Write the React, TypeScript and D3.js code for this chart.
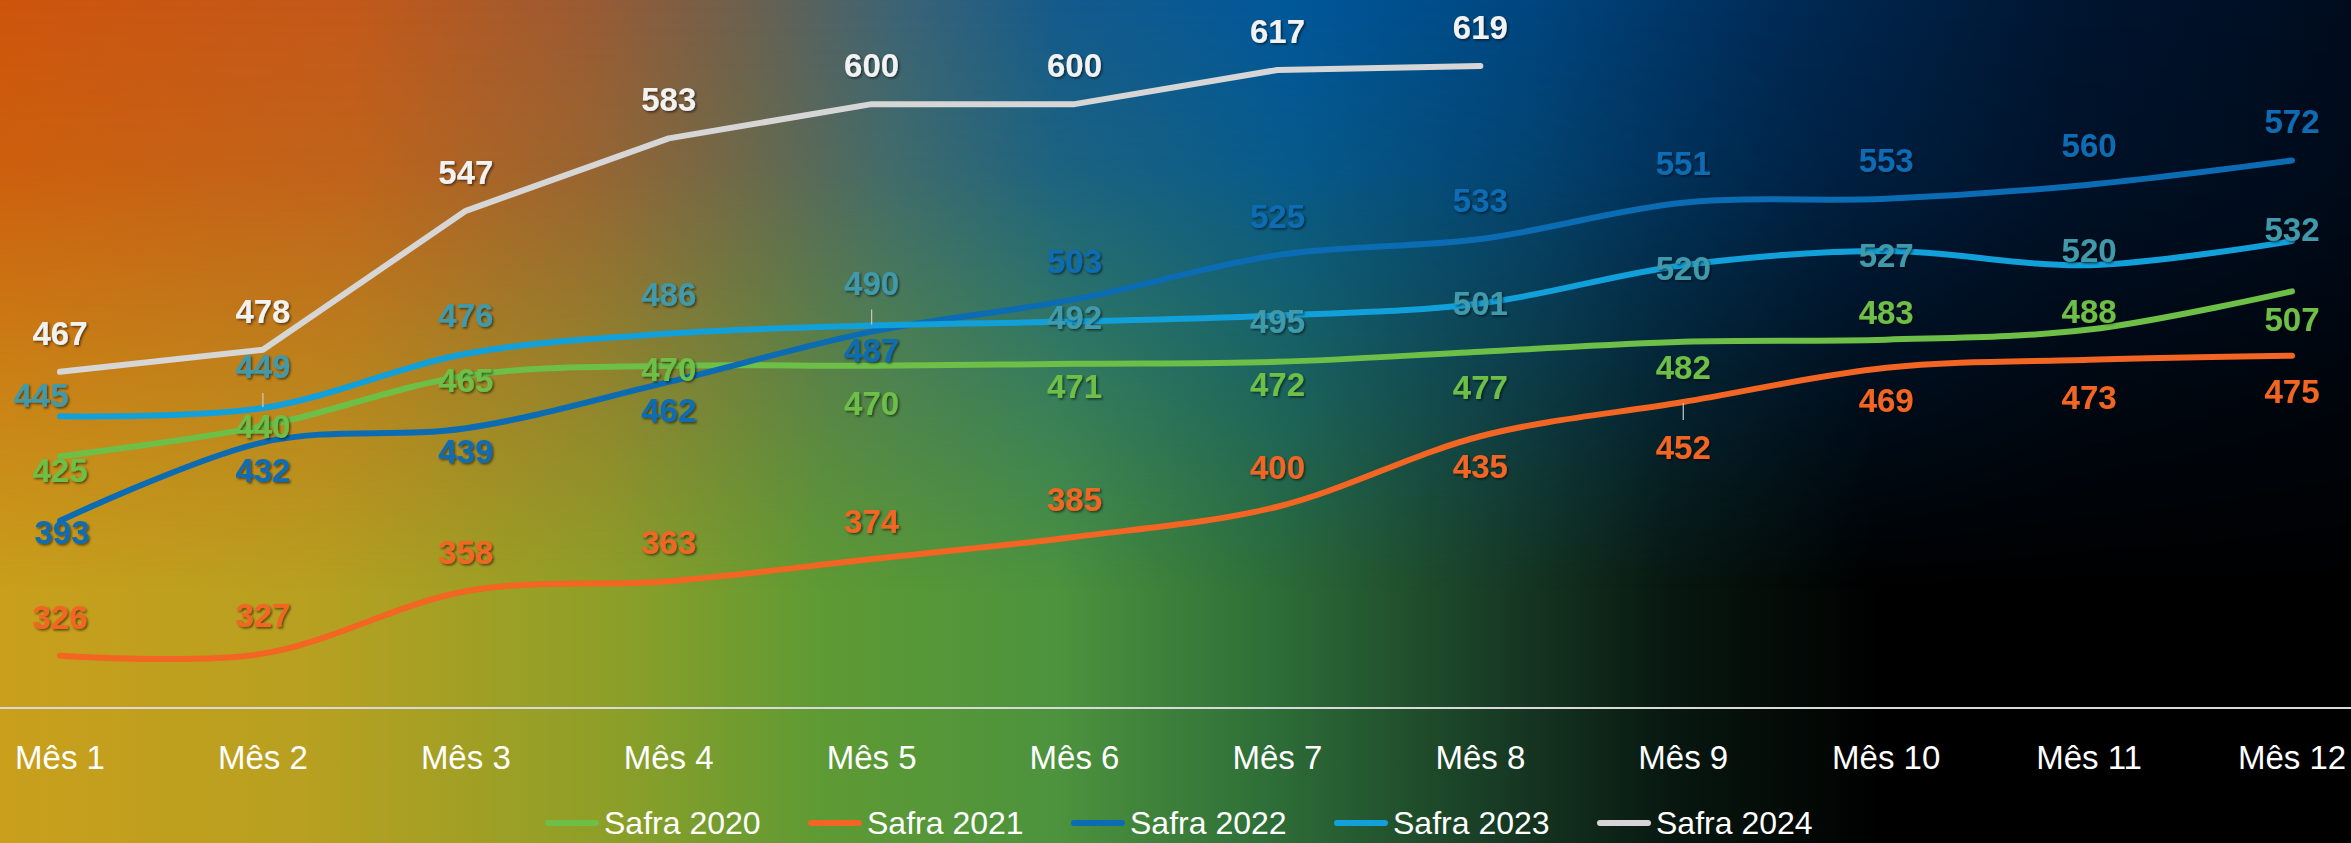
import React from 'react';
import * as d3 from 'd3';

// ---------- data ----------
const months = ['Mês 1', 'Mês 2', 'Mês 3', 'Mês 4', 'Mês 5', 'Mês 6', 'Mês 7', 'Mês 8', 'Mês 9', 'Mês 10', 'Mês 11', 'Mês 12'];
const seriesNames = ['Safra 2020', 'Safra 2021', 'Safra 2022', 'Safra 2023', 'Safra 2024'];
const safra2020 = [425, 440, 465, 470, 470, 471, 472, 477, 482, 483, 488, 507];
const safra2021 = [326, 327, 358, 363, 374, 385, 400, 435, 452, 469, 473, 475];
const safra2022 = [393, 432, 439, 462, 487, 503, 525, 533, 551, 553, 560, 572];
const safra2023 = [445, 449, 476, 486, 490, 492, 495, 501, 520, 527, 520, 532];
const safra2024 = [467, 478, 547, 583, 600, 600, 617, 619];
const yDomain = [300, 650];

// ---------- style ----------
const W = 2351;
const H = 843;
const FONT = "'Liberation Sans', Arial, sans-serif";
const lineColors = ['#6dbf47', '#f26522', '#0b6cb4', '#12a0da', '#d6d6d6'];
const labelColors = ['#6dbf47', '#f26522', '#0b6cb4', '#3f9aab', '#f2f2f2'];
const smooth = [true, true, true, true, false];
// label offsets relative to each point (px)
const labelDy2020 = [14, 0, 4, 3, 37, 22, 22, 35, 25, -28, -19, 28];
const labelDy2021 = [-39, -39, -39, -39, -38, -38, -40, 30, 45, 32, 37, 35];
const labelDy2022 = [11, 28, 23, 28, 18, -38, -39, -39, -40, -39, -40, -40];
const labelDy2023 = [-21, -42, -39, -40, -43, -5, 6, 0, 3, 4, -15, -12];
const labelDy2024 = [-39, -39, -39, -39, -39, -39, -39, -39];
const labelDx2022 = [2];
const labelDx2023 = [-19];
const leaderPoints = [
  { s: 3, i: 1 },
  { s: 3, i: 4 },
  { s: 1, i: 8 },
];

export default function App() {
  const allValues = [safra2020, safra2021, safra2022, safra2023, safra2024];
  const allDy = [labelDy2020, labelDy2021, labelDy2022, labelDy2023, labelDy2024];
  const allDx = [[], [], labelDx2022, labelDx2023, []];

  const x = d3.scalePoint<string>().domain(months).range([60, 2292]);
  const y = d3.scaleLinear().domain(yDomain).range([708, 3.5]);

  const series = seriesNames.map((name, s) => ({
    name,
    s,
    pts: allValues[s].map((v, i) => ({ m: months[i], v, i })),
  }));

  const lineGen = (isSmooth: boolean) =>
    d3
      .line<{ m: string; v: number }>()
      .x((d) => x(d.m) as number)
      .y((d) => y(d.v))
      .curve(isSmooth ? d3.curveCardinal.tension(0) : d3.curveLinear);

  const legendX0 = 545;
  const legendStep = 263;
  const legendY = 823;

  return (
    <svg
      width={W}
      height={H}
      style={{ position: 'absolute', left: 0, top: 0, display: 'block' }}
      fontFamily={FONT}
    >
      <defs>
        <linearGradient id="baseGrad" x1="0" x2="1" y1="0" y2="0">
          <stop offset="0" stopColor="#c99f1c" />
          <stop offset="0.13" stopColor="#b8a020" />
          <stop offset="0.26" stopColor="#8d9f28" />
          <stop offset="0.35" stopColor="#5e9a34" />
          <stop offset="0.45" stopColor="#4c933d" />
          <stop offset="0.54" stopColor="#2e6e38" />
          <stop offset="0.64" stopColor="#173a24" />
          <stop offset="0.71" stopColor="#081810" />
          <stop offset="0.8" stopColor="#000000" />
          <stop offset="1" stopColor="#000000" />
        </linearGradient>
        <linearGradient id="topGrad" x1="0" x2="1" y1="0" y2="0">
          <stop offset="0" stopColor="#cd540c" />
          <stop offset="0.15" stopColor="#c2581a" />
          <stop offset="0.25" stopColor="#9a5a33" />
          <stop offset="0.32" stopColor="#6a6050" />
          <stop offset="0.38" stopColor="#3d6374" />
          <stop offset="0.45" stopColor="#145a8c" />
          <stop offset="0.55" stopColor="#00579a" />
          <stop offset="0.65" stopColor="#004680" />
          <stop offset="0.76" stopColor="#002a55" />
          <stop offset="0.88" stopColor="#001530" />
          <stop offset="1" stopColor="#000c1e" />
        </linearGradient>
        <linearGradient id="fadeGrad" x1="0" x2="0" y1="0" y2="1">
          <stop offset="0" stopColor="#fff" stopOpacity="1" />
          <stop offset="0.2" stopColor="#fff" stopOpacity="0.85" />
          <stop offset="0.45" stopColor="#fff" stopOpacity="0.4" />
          <stop offset="0.7" stopColor="#fff" stopOpacity="0" />
        </linearGradient>
        <mask id="fadeMask">
          <rect x={0} y={0} width={W} height={H} fill="url(#fadeGrad)" />
        </mask>
        <filter id="shadow" x="-20%" y="-20%" width="140%" height="140%">
          <feDropShadow dx="1.5" dy="1.5" stdDeviation="1" floodColor="#000" floodOpacity="0.55" />
        </filter>
      </defs>

      <rect x={0} y={0} width={W} height={H} fill="url(#baseGrad)" />
      <rect x={0} y={0} width={W} height={H} fill="url(#topGrad)" mask="url(#fadeMask)" />

      {/* axis line */}
      <line x1={0} x2={W} y1={y(yDomain[0])} y2={y(yDomain[0])} stroke="#d9d9d9" strokeWidth={2} />

      {/* category labels */}
      {months.map((m) => (
        <text key={m} x={x(m)} y={769} textAnchor="middle" fill="#ffffff" fontSize={33}>
          {m}
        </text>
      ))}

      {/* lines */}
      {series.map((sr) => (
        <path
          key={sr.name}
          d={lineGen(smooth[sr.s])(sr.pts) || ''}
          fill="none"
          stroke={lineColors[sr.s]}
          strokeWidth={6}
          strokeLinecap="round"
          strokeLinejoin="round"
        />
      ))}

      {/* leader lines */}
      {leaderPoints.map(({ s, i }) => {
        const px = x(months[i]) as number;
        const py = y(allValues[s][i]);
        const dy = allDy[s][i];
        const sign = Math.sign(dy);
        return (
          <line
            key={`ld-${s}-${i}`}
            x1={px}
            x2={px}
            y1={py + sign * 1}
            y2={py + dy - sign * 27}
            stroke="#c8c8c8"
            strokeWidth={1.2}
          />
        );
      })}

      {/* data labels */}
      {series.map((sr) => (
        <g key={`lbl-${sr.name}`} filter="url(#shadow)">
          {sr.pts.map((p) => (
            <text
              key={p.i}
              x={(x(p.m) as number) + (allDx[sr.s][p.i] || 0)}
              y={y(p.v) + allDy[sr.s][p.i] + 12}
              textAnchor="middle"
              fill={labelColors[sr.s]}
              fontSize={33}
              fontWeight="bold"
            >
              {p.v}
            </text>
          ))}
        </g>
      ))}

      {/* legend */}
      {seriesNames.map((name, s) => {
        const lx = legendX0 + s * legendStep;
        return (
          <g key={`leg-${name}`}>
            <line
              x1={lx + 3}
              x2={lx + 51}
              y1={legendY}
              y2={legendY}
              stroke={lineColors[s]}
              strokeWidth={6}
              strokeLinecap="round"
            />
            <text x={lx + 59} y={legendY + 11} fill="#ffffff" fontSize={32}>
              {name}
            </text>
          </g>
        );
      })}
    </svg>
  );
}
